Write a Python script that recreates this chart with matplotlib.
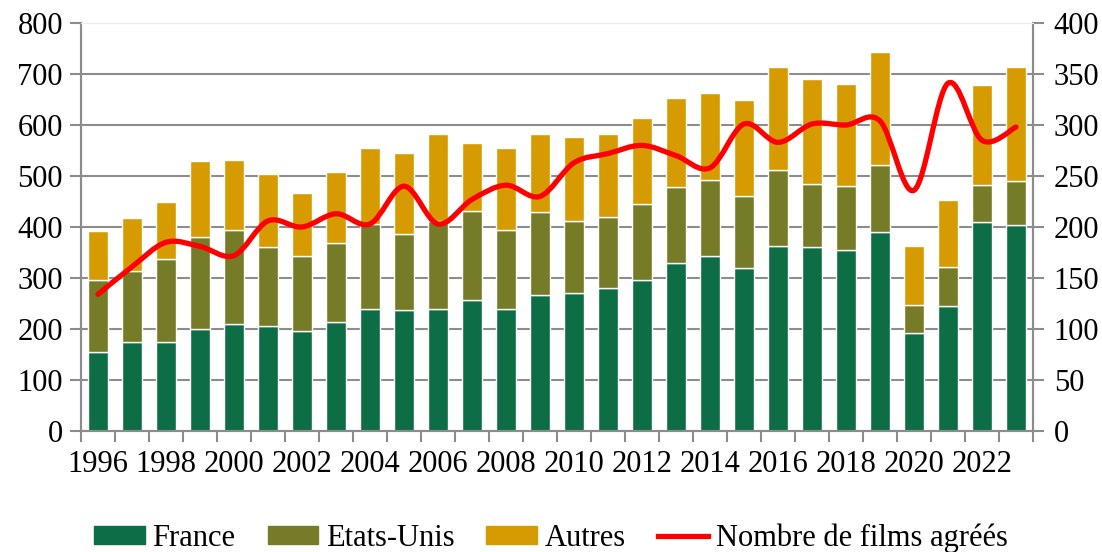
import matplotlib
matplotlib.use("Agg")
import matplotlib.pyplot as plt
from matplotlib.path import Path
from matplotlib.patches import PathPatch, Patch
from matplotlib.lines import Line2D
import numpy as np

plt.rcParams['font.family'] = ['Liberation Serif', 'DejaVu Serif']

years = list(range(1996, 2024))
france = [154, 174, 174, 200, 209, 205, 196, 214, 239, 237,
          239, 257, 239, 267, 271, 280, 297, 329, 343, 320,
          363, 360, 354, 390, 193, 245, 409, 404]
etats_unis_top = [296, 314, 337, 380, 394, 361, 343, 369, 406, 386,
                  412, 431, 394, 429, 412, 419, 446, 478, 493, 460,
                  512, 484, 480, 521, 248, 321, 482, 491]
autres_top = [393, 417, 449, 529, 531, 503, 467, 508, 555, 546,
              583, 564, 554, 583, 576, 583, 613, 652, 662, 650,
              714, 691, 681, 744, 363, 452, 678, 714]
films_agrees = [134, 161, 185, 181, 172, 206, 200, 213, 203, 240,
                203, 227, 241, 230, 263, 272, 280, 270, 258, 301,
                283, 301, 300, 304, 236, 341, 285, 298]

etats_unis = [u - f for u, f in zip(etats_unis_top, france)]
autres = [a - u for a, u in zip(autres_top, etats_unis_top)]

c_france = '#0d6e46'
c_us = '#767b27'
c_autres = '#d69b00'
c_line = '#ff0000'
grid_c = '#8c8c8c'
fs = 22

fig = plt.figure(figsize=(11.02, 5.52), dpi=100)
ax = fig.add_axes([0.0735, 0.2192, 0.8639, 0.7391])
ax2 = ax.twinx()

x = np.arange(len(years))
w = 0.6
ax.bar(x, france, w, color=c_france, edgecolor='white', linewidth=1, zorder=2)
ax.bar(x, etats_unis, w, bottom=france, color=c_us, edgecolor='white', linewidth=1, zorder=2)
ax.bar(x, autres, w, bottom=etats_unis_top, color=c_autres, edgecolor='white', linewidth=1, zorder=2)

ax.set_xlim(-0.5, len(years) - 0.5)
ax.set_ylim(0, 800)
ax.set_yticks(range(0, 801, 100))
ax.set_axisbelow(True)
ax.grid(axis='y', color=grid_c, linewidth=1.5)
ax.get_ygridlines()[-1].set_color('#ececec')
ax.get_ygridlines()[0].set_visible(False)

# tick marks between categories, labels every two years
ax.set_xticks(np.arange(-0.5, len(years), 1.0))
ax.set_xticklabels([])
ax.set_xticks(x[::2], minor=True)
ax.set_xticklabels([str(y) for y in years[::2]], minor=True)
ax.tick_params(axis='x', which='major', length=8, width=1.5, color=grid_c)
ax.tick_params(axis='x', which='minor', length=0, pad=14, labelsize=fs)
ax.tick_params(axis='y', length=8, width=1.5, color=grid_c, labelsize=fs, pad=5)

ax2.set_ylim(0, 400)
ax2.set_yticks(range(0, 401, 50))
ax2.tick_params(axis='y', length=8, width=1.5, color=grid_c, labelsize=fs, pad=7)

for a in (ax, ax2):
    a.spines['left'].set_color(grid_c)
    a.spines['right'].set_color(grid_c)
    a.spines['bottom'].set_color(grid_c)
    a.spines['top'].set_color('#ececec')
    for s in ('left', 'right', 'bottom'):
        a.spines[s].set_linewidth(1.5)

# smoothed line (Bezier through the points, like a spreadsheet smooth line)
pts = np.column_stack([x, films_agrees]).astype(float)
verts = [tuple(pts[0])]
codes = [Path.MOVETO]
n = len(pts)
for i in range(n - 1):
    p0 = pts[i - 1] if i > 0 else pts[i]
    p1 = pts[i]
    p2 = pts[i + 1]
    p3 = pts[i + 2] if i + 2 < n else pts[i + 1]
    c1 = p1 + (p2 - p0) / 6.0
    c2 = p2 - (p3 - p1) / 6.0
    verts += [tuple(c1), tuple(c2), tuple(p2)]
    codes += [Path.CURVE4] * 3
ax2.add_patch(PathPatch(Path(verts, codes), facecolor='none', edgecolor=c_line,
                        linewidth=3.8, capstyle='round', joinstyle='round', zorder=3))

handles = [Patch(color=c_france), Patch(color=c_us), Patch(color=c_autres),
           Line2D([], [], color=c_line, linewidth=3.8)]
labels = ['France', 'Etats-Unis', 'Autres', 'Nombre de films agréés']
fig.legend(handles, labels, loc='center', bbox_to_anchor=(0.5, 0.025), ncol=4,
           frameon=False, fontsize=fs, handlelength=1.65, handleheight=0.55,
           handletextpad=0.25, columnspacing=1.05)

fig.savefig('out.png', dpi=100)
